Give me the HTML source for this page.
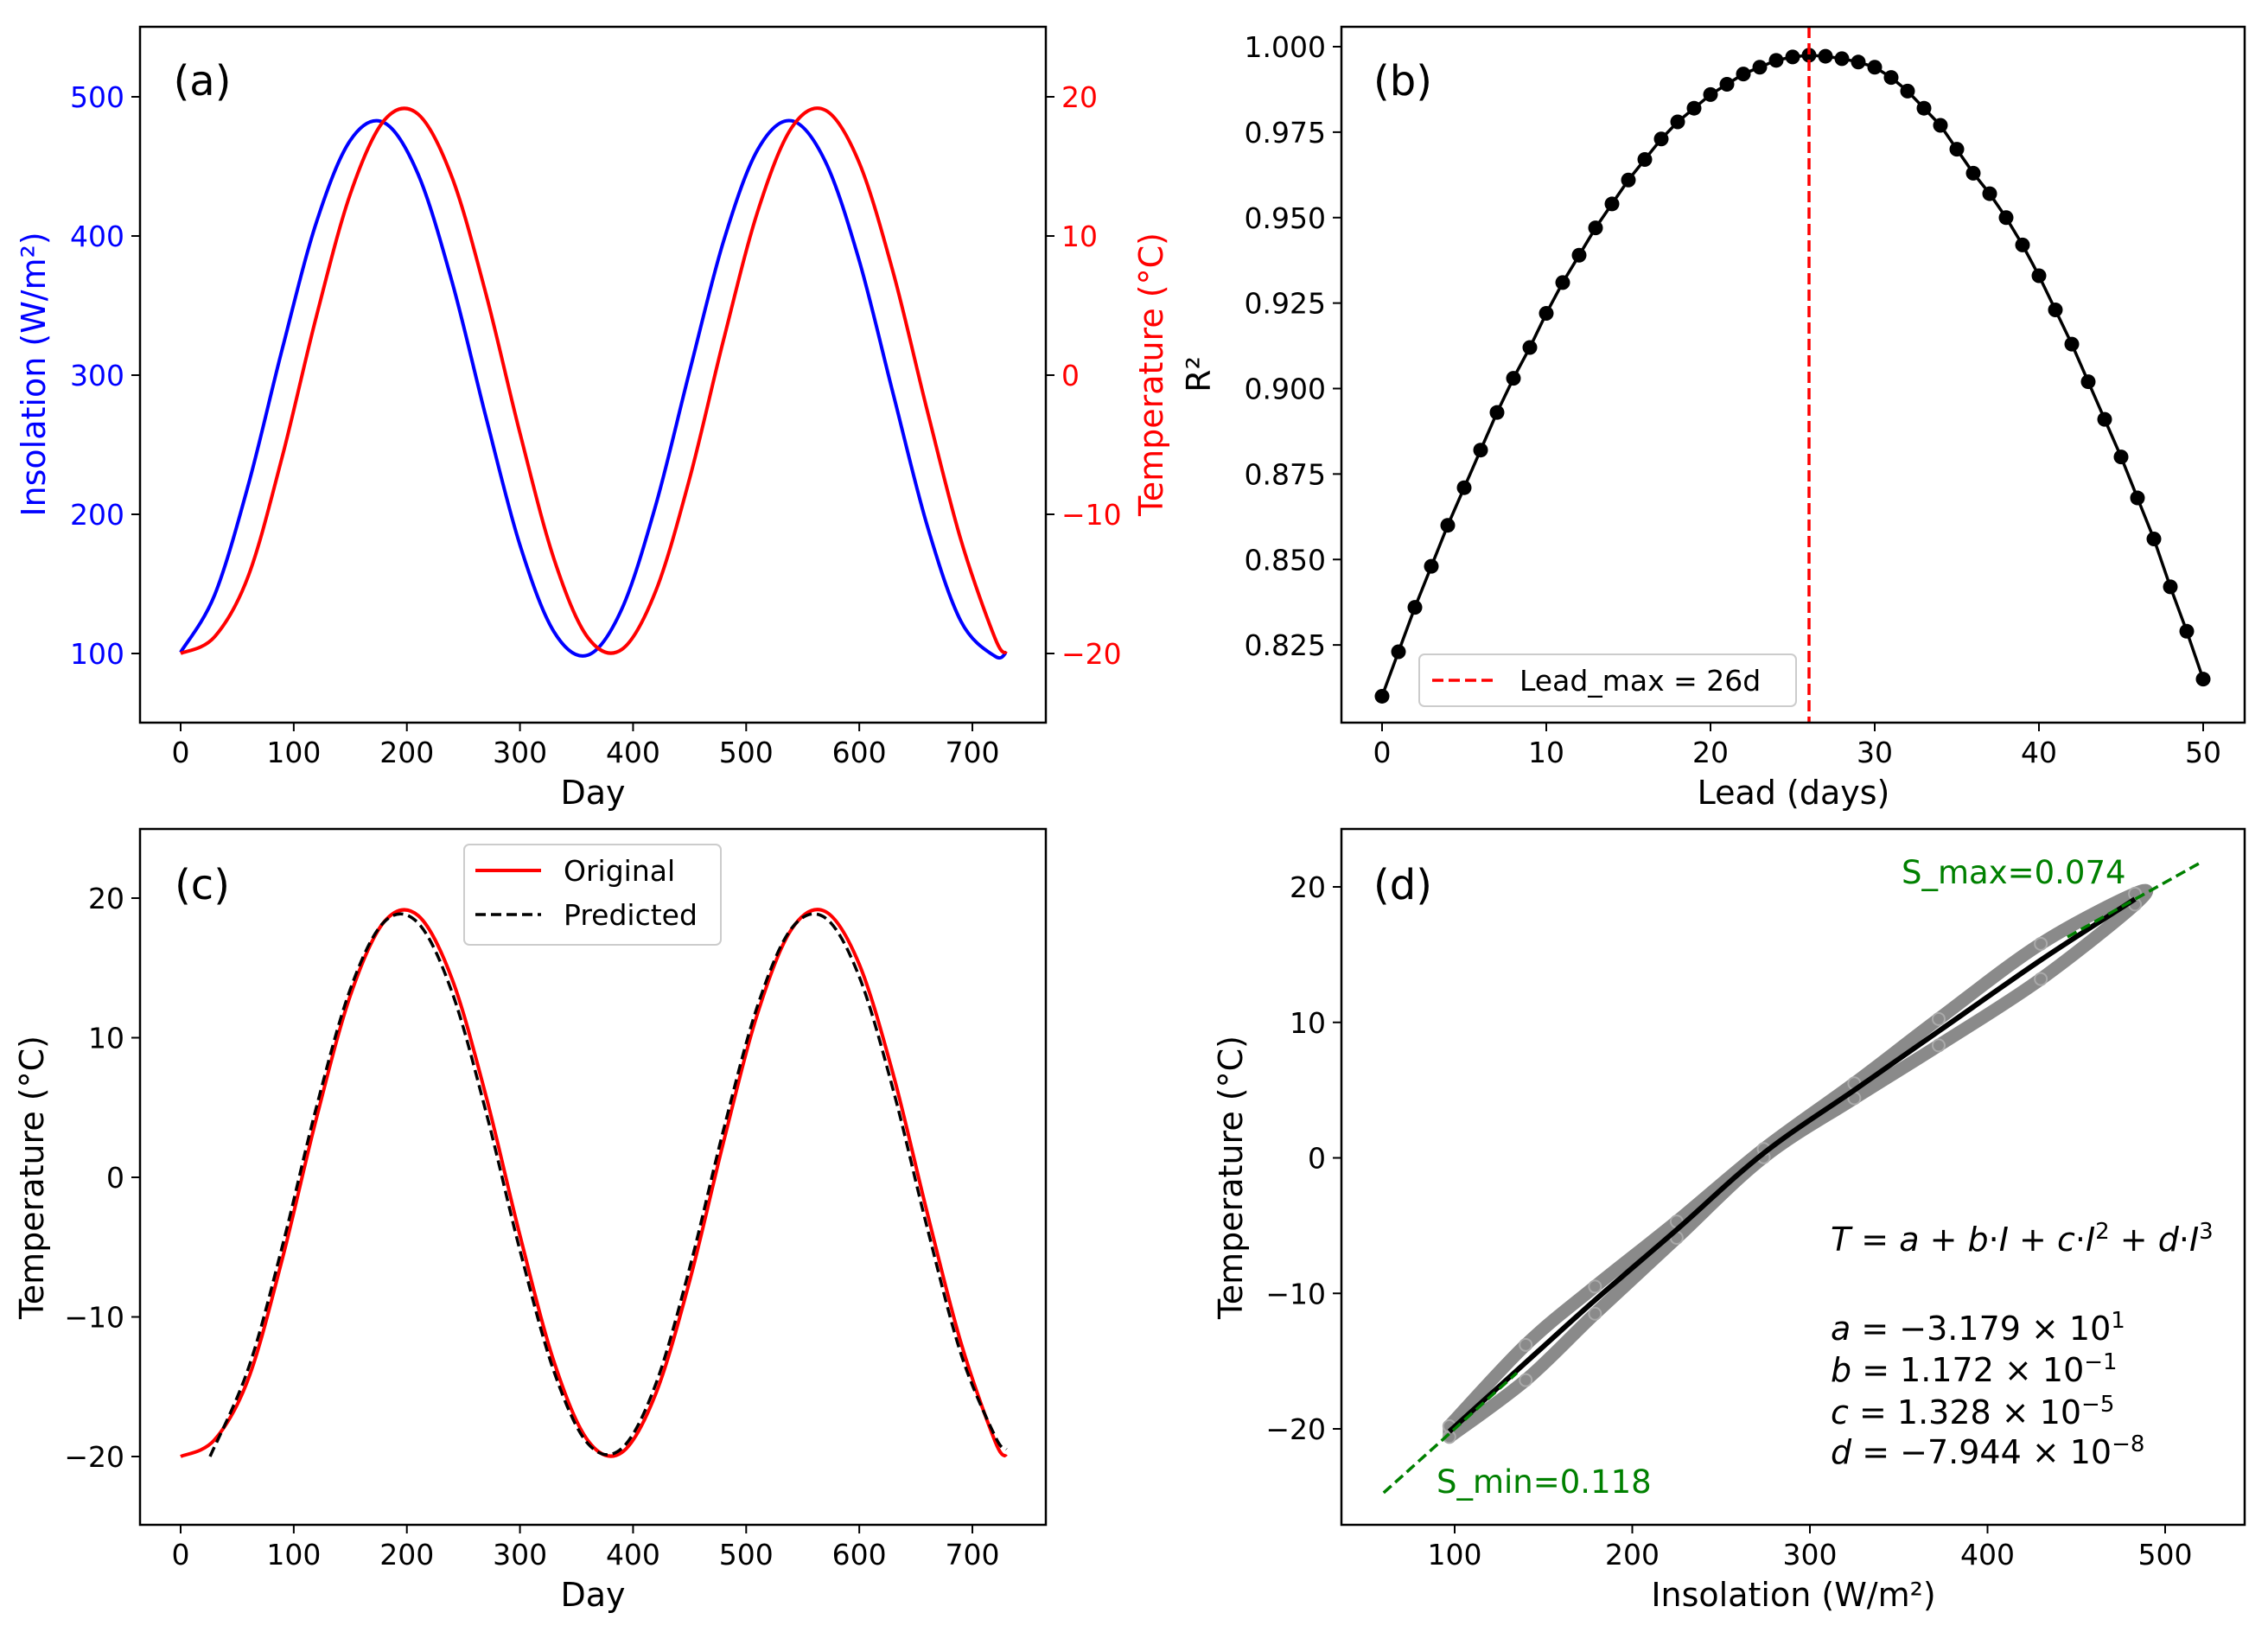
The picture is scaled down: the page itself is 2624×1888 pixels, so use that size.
<!DOCTYPE html>
<html><head><meta charset="utf-8"><style>
body{margin:0;background:#fff}
svg{display:block;font-family:"DejaVu Sans","Liberation Sans",sans-serif}
</style></head><body>
<svg id="fig" width="2624" height="1888" viewBox="0 0 2624 1888" xmlns="http://www.w3.org/2000/svg">
<rect width="2624" height="1888" fill="#fff"/>
</svg>
<script>
// ---- data ----
const days = [0,30,60,90,120,150,180,210,240,270,300,330,360,390,420,450,480,510,540,570,600,630,660,690,720,730];
const insolation = [100.9,142,221.6,319.4,409.7,468.7,481.4,444.3,366.9,269.7,177.9,115.7,98.8,131.9,206.4,302.9,396.2,461.8,482.8,453.5,382.1,286.5,192.0,123.0,98,100.9];
const temperature = [-20.0,-18.8,-14.40,-5.80,4.21,13.02,18.31,18.75,14.19,5.82,-4.17,-13.18,-18.85,-19.71,-15.52,-7.42,2.53,11.72,17.75,19.04,15.25,7.38,-2.52,-11.87,-18.9,-20.0];
const predDays = [26,60,90,120,150,180,210,240,270,300,330,360,390,420,450,480,510,540,570,600,630,660,690,720,730];
const predicted = [-20.0,-13.66,-4.90,5.01,13.48,18.30,18.21,13.24,4.68,-5.23,-13.89,-19.07,-19.42,-14.83,-6.49,3.40,12.28,17.82,18.58,14.36,6.26,-3.60,-12.66,-18.54,-19.50];
const leads = [0,1,2,3,4,5,6,7,8,9,10,11,12,13,14,15,16,17,18,19,20,21,22,23,24,25,26,27,28,29,30,31,32,33,34,35,36,37,38,39,40,41,42,43,44,45,46,47,48,49,50];
const r2 = [0.810,0.823,0.836,0.848,0.860,0.871,0.882,0.893,0.903,0.912,0.922,0.931,0.939,0.947,0.954,0.961,0.967,0.973,0.978,0.982,0.986,0.989,0.992,0.994,0.996,0.997,0.9975,0.9972,0.9965,0.9955,0.994,0.991,0.987,0.982,0.977,0.970,0.963,0.957,0.950,0.942,0.933,0.923,0.913,0.902,0.891,0.880,0.868,0.856,0.842,0.829,0.815];
const leadMax = 26;
const fitI = [97,140,179,225,274,325,372.5,430,483];
const fitT = [-20.2,-15.1,-10.5,-5.3,0.35,5.0,9.35,14.6,19.1];
const loopUpperI = [97,140,179,225,274,325,372.5,430,483];
const loopUpperT = [-19.8,-13.8,-9.5,-4.7,0.65,5.5,10.25,15.8,19.5];
const loopLowerI = [483,430,372.5,325,274,225,179,140,97];
const loopLowerT = [18.7,13.2,8.3,4.4,0.05,-5.9,-11.5,-16.4,-20.6];
const tangentMinI = [60,135];
const tangentMinT = [-24.72,-15.87];
const tangentMaxI = [445,520];
const tangentMaxT = [16.3,21.8];
const dayTicks = [0,100,200,300,400,500,600,700];
const insTicks = [100,200,300,400,500];
const tempTicks = [-20,-10,0,10,20];
const r2Ticks = [0.825,0.850,0.875,0.900,0.925,0.950,0.975,1.000];
const leadTicks = [0,10,20,30,40,50];
const dInsTicks = [100,200,300,400,500];

// ---- helpers ----
const svg = document.getElementById('fig');
const NS = 'http://www.w3.org/2000/svg';
function mk(tag, attrs, parent){const e=document.createElementNS(NS,tag);for(const k in attrs)e.setAttribute(k,attrs[k]);(parent||svg).appendChild(e);return e;}
function txt(s, attrs, parent){const e=mk('text',attrs,parent);e.textContent=s;return e;}
function smooth(pts){
  let d='M'+pts[0][0].toFixed(1)+','+pts[0][1].toFixed(1);
  for(let i=0;i<pts.length-1;i++){
    const p0=pts[i-1]||pts[i],p1=pts[i],p2=pts[i+1],p3=pts[i+2]||pts[i+1];
    const c1=[p1[0]+(p2[0]-p0[0])/6,p1[1]+(p2[1]-p0[1])/6];
    const c2=[p2[0]-(p3[0]-p1[0])/6,p2[1]-(p3[1]-p1[1])/6];
    d+='C'+c1[0].toFixed(1)+','+c1[1].toFixed(1)+' '+c2[0].toFixed(1)+','+c2[1].toFixed(1)+' '+p2[0].toFixed(1)+','+p2[1].toFixed(1);
  }
  return d;
}
const TF = 33, LF = 38;
function frame(x0,y0,x1,y1,name){
  const r=mk('rect',{x:x0,y:y0,width:x1-x0,height:y1-y0,fill:'none',stroke:'#000','stroke-width':2.5});
  
  
}
function xTicks(vals,fx,yb,name,fmt){
  vals.forEach(v=>{const x=fx(v);mk('line',{x1:x,y1:yb,x2:x,y2:yb+10,stroke:'#000','stroke-width':2});
    const t=txt(fmt?fmt(v):String(v),{x:x,y:yb+46,'font-size':TF,'text-anchor':'middle'});
    
    });
}
function yTicks(vals,fy,xl,name,fmt,color,right){
  vals.forEach(v=>{const y=fy(v);mk('line',{x1:xl,y1:y,x2:right?xl+10:xl-10,y2:y,stroke:'#000','stroke-width':2});
    const s=fmt?fmt(v):(v<0?'\u2212'+(-v):String(v));
    const t=txt(s,{x:right?xl+18:xl-18,y:y+12,'font-size':TF,'text-anchor':right?'start':'end',fill:color||'#000'});
    
    });
}
function label(s,x,y,rot,color,name,size){
  const t=txt(s,{x:x,y:y,'font-size':size||LF,'text-anchor':'middle',fill:color||'#000',transform:rot?`rotate(-90 ${x} ${y})`:''});
  
  
}

// ---- panel a ----
const ax = d => 209 + d*1.3086;
const ayI = v => 756 - (v-100)*1.61;
const ayT = t => 756 - (t+20)*16.1;
const pa1 = mk('path',{d:smooth(days.map((d,i)=>[ax(d),ayI(insolation[i])])),fill:'none',stroke:'#0000ff','stroke-width':4});


const pa2 = mk('path',{d:smooth(days.map((d,i)=>[ax(d),ayT(temperature[i])])),fill:'none',stroke:'#ff0000','stroke-width':4});


frame(162,31,1210,836,'panel-a-axes');
xTicks(dayTicks,ax,836,'x-tick-label');
yTicks(insTicks,ayI,162,'insolation-tick-label',null,'#0000ff');
yTicks(tempTicks,ayT,1210,'temperature-tick-label',null,'#ff0000',true);
label('Insolation (W/m²)',52,433,true,'#0000ff','insolation-axis-title');
label('Temperature (°C)',1345,433,true,'#ff0000','temperature-axis-title');
label('Day',686,930,false,'#000','x-axis-title');
label('(a)',234,110,false,'#000','panel-label-a',48);

// ---- panel b ----
const bx = l => 1599 + l*19.0;
const by = r => 54 + (1-r)*3955;
const pb = mk('path',{d:'M'+leads.map((l,i)=>bx(l).toFixed(1)+','+by(r2[i]).toFixed(1)).join('L'),fill:'none',stroke:'#000','stroke-width':3.5});


leads.forEach((l,i)=>{const c=mk('circle',{cx:bx(l),cy:by(r2[i]),r:8.5,fill:'#000'});
  
  });
const vl = mk('line',{x1:bx(leadMax),y1:31,x2:bx(leadMax),y2:836,stroke:'#ff0000','stroke-width':3.5,'stroke-dasharray':'13,6'});


frame(1552,31,2597,836,'panel-b-axes');
xTicks(leadTicks,bx,836,'lead-tick-label');
yTicks(r2Ticks,by,1552,'r2-tick-label',v=>v.toFixed(3));
label('R²',1400,433,true,'#000','r2-axis-title');
label('Lead (days)',2075,930,false,'#000','lead-axis-title');
label('(b)',1623,110,false,'#000','panel-label-b',48);
const lgb = mk('g',{});


mk('rect',{x:1642,y:757,width:436,height:60,rx:6,fill:'#fff','fill-opacity':0.8,stroke:'#cccccc','stroke-width':2},lgb);
mk('line',{x1:1657,y1:787,x2:1731,y2:787,stroke:'#ff0000','stroke-width':3.5,'stroke-dasharray':'13,6'},lgb);
txt('Lead_max = 26d',{x:1758,y:799,'font-size':TF},lgb);

// ---- panel c ----
const cy = t => 1039 + (20-t)*16.15;
const pc1 = mk('path',{d:smooth(days.map((d,i)=>[ax(d),cy(temperature[i])])),fill:'none',stroke:'#ff0000','stroke-width':4});


const pc2 = mk('path',{d:smooth(predDays.map((d,i)=>[ax(d),cy(predicted[i])])),fill:'none',stroke:'#000','stroke-width':3.5,'stroke-dasharray':'12,6'});


frame(162,959,1210,1764,'panel-c-axes');
xTicks(dayTicks,ax,1764,'x-tick-label');
yTicks(tempTicks,cy,162,'temperature-tick-label');
label('Temperature (°C)',50,1362,true,'#000','temperature-axis-title');
label('Day',686,1858,false,'#000','x-axis-title');
label('(c)',234,1040,false,'#000','panel-label-c',48);
const lgc = mk('g',{});


mk('rect',{x:537,y:977,width:297,height:116,rx:6,fill:'#fff','fill-opacity':0.8,stroke:'#cccccc','stroke-width':2},lgc);
mk('line',{x1:550,y1:1007,x2:626,y2:1007,stroke:'#ff0000','stroke-width':4},lgc);
mk('line',{x1:550,y1:1058,x2:626,y2:1058,stroke:'#000','stroke-width':3.5,'stroke-dasharray':'12,6'},lgc);
txt('Original',{x:652,y:1019,'font-size':TF},lgc);
txt('Predicted',{x:652,y:1070,'font-size':TF},lgc);

// ---- panel d ----
const dx = I => 1683 + (I-100)*2.055;
const dy = t => 1026 + (20-t)*15.675;
const loopPts = loopUpperI.map((v,i)=>[dx(v),dy(loopUpperT[i])]).concat(loopLowerI.map((v,i)=>[dx(v),dy(loopLowerT[i])]));
const lp = mk('path',{d:smooth(loopPts)+'Z',fill:'none',stroke:'#8a8a8a','stroke-width':15,'stroke-linejoin':'round','stroke-linecap':'round'});


loopPts.forEach(p=>{const c=mk('circle',{cx:p[0],cy:p[1],r:7,fill:'none',stroke:'#aaa','stroke-width':2});
  
  });
const fl = mk('path',{d:smooth(fitI.map((v,i)=>[dx(v),dy(fitT[i])])),fill:'none',stroke:'#000','stroke-width':6});


[[tangentMinI,tangentMinT,'s-min-tangent'],[tangentMaxI,tangentMaxT,'s-max-tangent']].forEach(s=>{
  const g=mk('line',{x1:dx(s[0][0]),y1:dy(s[1][0]),x2:dx(s[0][1]),y2:dy(s[1][1]),stroke:'#008000','stroke-width':3.5,'stroke-dasharray':'12,6'});
  
  
});
frame(1552,959,2597,1764,'panel-d-axes');
xTicks(dInsTicks,dx,1764,'insolation-tick-label');
yTicks(tempTicks,dy,1552,'temperature-tick-label');
label('Temperature (°C)',1437,1362,true,'#000','temperature-axis-title');
label('Insolation (W/m²)',2075,1858,false,'#000','insolation-axis-title');
label('(d)',1623,1040,false,'#000','panel-label-d',48);
const smax = txt('S_max=0.074',{x:2200,y:1022,'font-size':37,fill:'#008000'});


const smin = txt('S_min=0.118',{x:1662,y:1727,'font-size':37,fill:'#008000'});


const eq = mk('g',{'font-size':38});


const eqLines = [
 ['<tspan font-style="italic">T</tspan> = <tspan font-style="italic">a</tspan> + <tspan font-style="italic">b</tspan>·<tspan font-style="italic">I</tspan> + <tspan font-style="italic">c</tspan>·<tspan font-style="italic">I</tspan><tspan dy="-14" font-size="26">2</tspan><tspan dy="14"> + </tspan><tspan font-style="italic">d</tspan>·<tspan font-style="italic">I</tspan><tspan dy="-14" font-size="26">3</tspan>',1447],
 ['<tspan font-style="italic">a</tspan> = −3.179 × 10<tspan dy="-14" font-size="26">1</tspan>',1550],
 ['<tspan font-style="italic">b</tspan> = 1.172 × 10<tspan dy="-14" font-size="26">−1</tspan>',1598],
 ['<tspan font-style="italic">c</tspan> = 1.328 × 10<tspan dy="-14" font-size="26">−5</tspan>',1647],
 ['<tspan font-style="italic">d</tspan> = −7.944 × 10<tspan dy="-14" font-size="26">−8</tspan>',1693]
];
eqLines.forEach(l=>{const t=mk('text',{x:2118,y:l[1]},eq);t.innerHTML=l[0];});
</script>
</body></html>
